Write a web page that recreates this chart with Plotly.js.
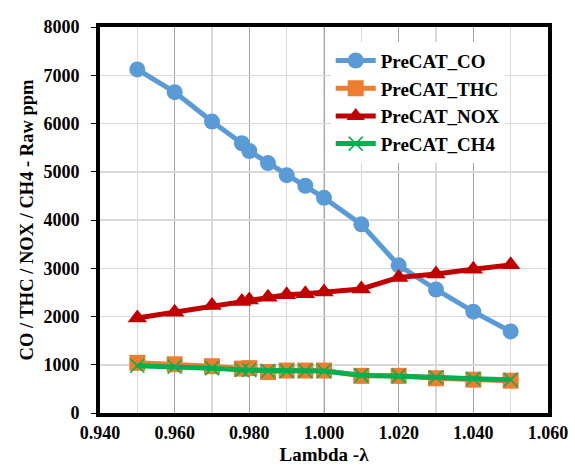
<!DOCTYPE html>
<html>
<head>
<meta charset="utf-8">
<script src="https://cdn.plot.ly/plotly-3.0.1.min.js"></script>
<style>
  html, body { margin: 0; padding: 0; background: #ffffff; }
  #chart { width: 575px; height: 465px; }
</style>
</head>
<body>
<div id="chart"></div>
<script>
// Lambda sweep points
const lambda = [0.950, 0.960, 0.970, 0.978, 0.980, 0.985, 0.990, 0.995, 1.000, 1.010, 1.020, 1.030, 1.040, 1.050];

// Raw pre-catalyst emissions, ppm
const preCatCO  = [7120, 6650, 6040, 5590, 5430, 5180, 4930, 4710, 4460, 3910, 3060, 2560, 2100, 1690];
const preCatTHC = [1040, 1010, 970, 920, 930, 850, 880, 880, 880, 770, 770, 720, 690, 670];
const preCatNOX = [1970, 2090, 2230, 2310, 2340, 2400, 2450, 2470, 2510, 2570, 2810, 2880, 2980, 3070];
const preCatCH4 = [980, 960, 930, 890, 890, 870, 870, 870, 870, 780, 770, 740, 710, 690];

const xTicks = [0.940, 0.960, 0.980, 1.000, 1.020, 1.040, 1.060];
const xTickText = ['0.940', '0.960', '0.980', '1.000', '1.020', '1.040', '1.060'];
const yTicks = [0, 1000, 2000, 3000, 4000, 5000, 6000, 7000, 8000];

const serif = 'Liberation Serif, Times New Roman, serif';

const traces = [
  {
    name: 'PreCAT_CO', x: lambda, y: preCatCO, type: 'scatter', mode: 'lines+markers',
    line: { color: '#5B9BD5', width: 5 },
    marker: { symbol: 'circle', size: 16, color: '#5B9BD5' }
  },
  {
    name: 'PreCAT_THC', x: lambda, y: preCatTHC, type: 'scatter', mode: 'lines+markers',
    line: { color: '#ED7D31', width: 5 },
    marker: { symbol: 'square', size: 16, color: '#ED7D31' }
  },
  {
    name: 'PreCAT_NOX', x: lambda, y: preCatNOX, type: 'scatter', mode: 'lines+markers',
    line: { color: '#C00000', width: 5 },
    marker: { symbol: 'triangle-up', size: 17, color: '#C00000' }
  },
  {
    name: 'PreCAT_CH4', x: lambda, y: preCatCH4, type: 'scatter', mode: 'lines+markers',
    line: { color: '#00B050', width: 5 },
    marker: { symbol: 'x-thin-open', size: 14, color: '#00B050', line: { color: '#00B050', width: 1.5 } }
  }
];

const layout = {
  width: 575, height: 465,
  margin: { l: 100, r: 27, t: 27, b: 52 },
  paper_bgcolor: '#ffffff', plot_bgcolor: '#ffffff',
  font: { family: serif, color: '#000000' },
  showlegend: true,
  legend: {
    x: 0.515, y: 0.962, xanchor: 'left', yanchor: 'top',
    bgcolor: '#ffffff', borderwidth: 0,
    font: { family: serif, size: 19, color: '#000000', weight: 'bold' },
    tracegroupgap: 0, itemwidth: 40
  },
  xaxis: {
    range: [0.940, 1.060], tickmode: 'array', tickvals: xTicks, ticktext: xTickText,
    tickfont: { family: serif, size: 18, weight: 'bold' },
    showline: true, linecolor: '#000000', linewidth: 4, mirror: true,
    showgrid: true, gridcolor: '#a6a6a6', gridwidth: 1,
    minor: { dtick: 0.01, tick0: 0.94, showgrid: true, gridcolor: '#d9d9d9', gridwidth: 1.5 },
    ticks: '', zeroline: false,
    title: { text: 'Lambda -λ', font: { family: serif, size: 19, weight: 'bold' }, standoff: 13 }
  },
  yaxis: {
    range: [0, 8000], tickmode: 'array', tickvals: yTicks,
    tickfont: { family: serif, size: 18, weight: 'bold' },
    showline: true, linecolor: '#000000', linewidth: 4, mirror: true,
    showgrid: true, gridcolor: '#d9d9d9', gridwidth: 1.5,
    ticks: 'outside', ticklen: 5, tickcolor: '#000000', tickwidth: 1,
    ticklabelstandoff: 8, zeroline: false,
    title: { text: 'CO / THC / NOX / CH4 - Raw ppm', font: { family: serif, size: 18.5, weight: 'bold' }, standoff: 6 }
  }
};

Plotly.newPlot('chart', traces, layout, { displayModeBar: false, staticPlot: true });
</script>
</body>
</html>
